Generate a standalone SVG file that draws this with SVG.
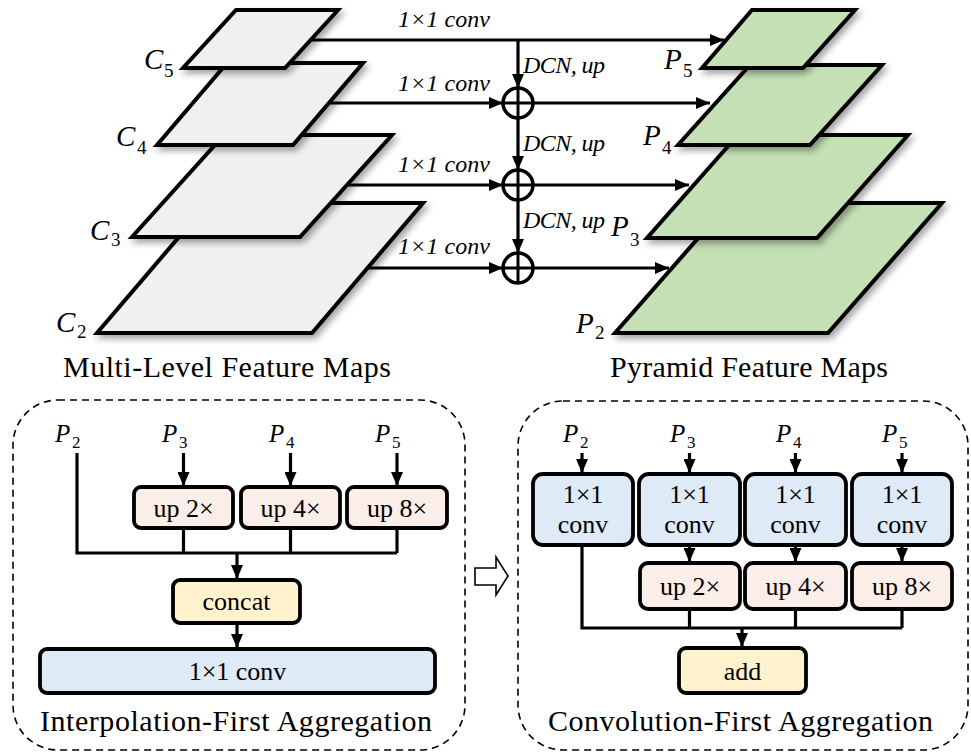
<svg xmlns="http://www.w3.org/2000/svg" width="971" height="752" viewBox="0 0 971 752">
<defs>
<filter id="sh" x="-20%" y="-20%" width="140%" height="150%">
<feDropShadow dx="3" dy="4" stdDeviation="3" flood-color="#000" flood-opacity="0.35"/>
</filter>
<marker id="ah" markerUnits="userSpaceOnUse" markerWidth="14" markerHeight="12" viewBox="0 0 14 12" refX="14" refY="6" orient="auto">
<path d="M0,0 L14,6 L0,12 z" fill="#000"/>
</marker>
</defs>
<style>
.c{fill:#f0f0f0;stroke:#000;stroke-width:4;stroke-linejoin:miter;filter:url(#sh)}
.p{fill:#c5e0b4;stroke:#000;stroke-width:4;stroke-linejoin:miter;filter:url(#sh)}
.ln{fill:none;stroke:#000;stroke-width:3.2}
.ar{fill:none;stroke:#000;stroke-width:3.2;marker-end:url(#ah)}
.lab{font-family:"Liberation Serif",serif;font-style:italic;font-size:24px;fill:#000}
.sym{font-family:"Liberation Serif",serif;font-style:italic;font-size:29px;fill:#000}
.sub{font-family:"Liberation Serif",serif;font-size:19px;fill:#000}
.symb{font-family:"Liberation Serif",serif;font-style:italic;font-size:25px;fill:#000}
.subb{font-family:"Liberation Serif",serif;font-size:17px;fill:#000}
.ttl{font-family:"Liberation Serif",serif;font-size:30px;fill:#000}
.bt{font-family:"Liberation Serif",serif;font-size:26px;fill:#000;text-anchor:middle}
.box{stroke:#000;stroke-width:3.8}
.up{fill:#fbeee8}
.cc{fill:#fff2cc}
.cv{fill:#deebf7}
.dash{fill:none;stroke:#000;stroke-width:1.6;stroke-dasharray:7 5}
</style>

<!-- Left feature maps -->
<g id="C2"><polygon class="c" points="97,333 312,333 423,203 208,203"/>
<text class="sym" x="56" y="332">C</text><text class="sub" x="77" y="338">2</text></g>
<g id="C3"><polygon class="c" points="132,237 300,237 392,135 224,135"/>
<text class="sym" x="90" y="240">C</text><text class="sub" x="111" y="246">3</text></g>
<g id="C4"><polygon class="c" points="157,145 293,145 363,63 227,63"/>
<text class="sym" x="116" y="146">C</text><text class="sub" x="137" y="154">4</text></g>
<g id="C5"><polygon class="c" points="183,68 285,68 338,10 236,10"/>
<text class="sym" x="144" y="69">C</text><text class="sub" x="164" y="77">5</text></g>

<!-- Right pyramid maps -->
<g id="P2"><polygon class="p" points="615,333 828,333 942,203 729,203"/>
<text class="sym" x="576" y="333">P</text><text class="sub" x="595" y="339">2</text></g>
<g id="P3"><polygon class="p" points="647,238 817,238 908,135 738,135"/>
<text class="sym" x="611" y="236">P</text><text class="sub" x="630" y="246">3</text></g>
<g id="P4"><polygon class="p" points="678,145 810,145 882,65 750,65"/>
<text class="sym" x="643" y="145">P</text><text class="sub" x="662" y="154">4</text></g>
<g id="P5"><polygon class="p" points="702,68 803,68 855,10 752,10"/>
<text class="sym" x="664" y="69">P</text><text class="sub" x="683" y="77">5</text></g>

<!-- Top connectors -->
<g id="top-connectors">
<line class="ar" x1="311" y1="40" x2="724" y2="40"/>
<line class="ar" x1="518" y1="40" x2="518" y2="88"/>
<line class="ar" x1="329" y1="103" x2="503" y2="103"/>
<line class="ar" x1="533" y1="103" x2="710" y2="103"/>
<line class="ar" x1="518" y1="118" x2="518" y2="170"/>
<line class="ar" x1="347" y1="185" x2="503" y2="185"/>
<line class="ar" x1="533" y1="185" x2="689" y2="185"/>
<line class="ar" x1="518" y1="200" x2="518" y2="253"/>
<line class="ar" x1="367" y1="268" x2="503" y2="268"/>
<line class="ar" x1="533" y1="268" x2="669" y2="268"/>
<text class="lab" x="398" y="27" textLength="92">1×1 conv</text>
<text class="lab" x="398" y="91" textLength="92">1×1 conv</text>
<text class="lab" x="398" y="172" textLength="92">1×1 conv</text>
<text class="lab" x="398" y="254" textLength="92">1×1 conv</text>
<text class="lab" x="523" y="73" textLength="82">DCN, up</text>
<text class="lab" x="523" y="151" textLength="82">DCN, up</text>
<text class="lab" x="523" y="228" textLength="82">DCN, up</text>
</g>
<g id="sum1"><circle cx="518" cy="103" r="15" fill="#fff" stroke="#000" stroke-width="3.5"/><path d="M503,103 H533 M518,88 V118" stroke="#000" stroke-width="3"/></g>
<g id="sum2"><circle cx="518" cy="185" r="15" fill="#fff" stroke="#000" stroke-width="3.5"/><path d="M503,185 H533 M518,170 V200" stroke="#000" stroke-width="3"/></g>
<g id="sum3"><circle cx="518" cy="268" r="15" fill="#fff" stroke="#000" stroke-width="3.5"/><path d="M503,268 H533 M518,253 V283" stroke="#000" stroke-width="3"/></g>

<text class="ttl" x="63" y="377" textLength="328">Multi-Level Feature Maps</text>
<text class="ttl" x="610" y="377" textLength="278">Pyramid Feature Maps</text>

<!-- Bottom-left panel -->
<g id="panel-left">
<rect class="dash" x="13" y="400" width="452" height="350" rx="45"/>
<text class="ttl" x="40" y="731" textLength="392">Interpolation-First Aggregation</text>
</g>
<g id="L-P2"><text class="symb" x="55" y="442">P</text><text class="subb" x="72" y="448">2</text></g>
<g id="L-P3"><text class="symb" x="162" y="442">P</text><text class="subb" x="179" y="448">3</text></g>
<g id="L-P4"><text class="symb" x="269" y="442">P</text><text class="subb" x="286" y="448">4</text></g>
<g id="L-P5"><text class="symb" x="375" y="442">P</text><text class="subb" x="392" y="448">5</text></g>
<g id="L-up2"><rect class="box up" x="134" y="487" width="99" height="41" rx="7"/><text class="bt" x="183.5" y="517">up 2×</text></g>
<g id="L-up4"><rect class="box up" x="241" y="487" width="99" height="41" rx="7"/><text class="bt" x="290.5" y="517">up 4×</text></g>
<g id="L-up8"><rect class="box up" x="347" y="487" width="100" height="41" rx="7"/><text class="bt" x="397" y="517">up 8×</text></g>
<g id="L-concat"><rect class="box cc" x="173" y="580" width="127" height="43" rx="7"/><text class="bt" x="236.5" y="610">concat</text></g>
<g id="L-conv"><rect class="box cv" x="40" y="649" width="395" height="44" rx="7"/><text class="bt" x="237.5" y="680">1×1 conv</text></g>
<g id="L-connectors">
<path class="ln" d="M77,453 V553 H397"/>
<line class="ln" x1="183.5" y1="528" x2="183.5" y2="553"/>
<line class="ln" x1="290.5" y1="528" x2="290.5" y2="553"/>
<line class="ln" x1="397" y1="528" x2="397" y2="553"/>
<line class="ar" x1="183.5" y1="453" x2="183.5" y2="486"/>
<line class="ar" x1="290.5" y1="453" x2="290.5" y2="486"/>
<line class="ar" x1="397" y1="453" x2="397" y2="486"/>
<line class="ar" x1="237" y1="553" x2="237" y2="579"/>
<line class="ar" x1="237" y1="623" x2="237" y2="648"/>
</g>

<!-- hollow arrow -->
<g id="transition"><polygon points="475,568 496,568 496,557 508,576 496,595 496,585 475,585" fill="#fff" stroke="#000" stroke-width="1.6" stroke-linejoin="miter"/></g>

<!-- Bottom-right panel -->
<g id="panel-right">
<rect class="dash" x="518" y="401" width="450" height="349" rx="45"/>
<text class="ttl" x="548" y="731" textLength="385">Convolution-First Aggregation</text>
</g>
<g id="R-P2"><text class="symb" x="563" y="442">P</text><text class="subb" x="580" y="448">2</text></g>
<g id="R-P3"><text class="symb" x="670" y="442">P</text><text class="subb" x="687" y="448">3</text></g>
<g id="R-P4"><text class="symb" x="776" y="442">P</text><text class="subb" x="793" y="448">4</text></g>
<g id="R-P5"><text class="symb" x="882" y="442">P</text><text class="subb" x="899" y="448">5</text></g>
<g id="R-conv2"><rect class="box cv" x="533" y="474" width="100" height="71" rx="10"/><text class="bt" x="583" y="503">1×1</text><text class="bt" x="583" y="533">conv</text></g>
<g id="R-conv3"><rect class="box cv" x="639" y="474" width="101" height="71" rx="10"/><text class="bt" x="689.5" y="503">1×1</text><text class="bt" x="689.5" y="533">conv</text></g>
<g id="R-conv4"><rect class="box cv" x="745" y="474" width="101" height="71" rx="10"/><text class="bt" x="795.5" y="503">1×1</text><text class="bt" x="795.5" y="533">conv</text></g>
<g id="R-conv5"><rect class="box cv" x="852" y="474" width="100" height="71" rx="10"/><text class="bt" x="902" y="503">1×1</text><text class="bt" x="902" y="533">conv</text></g>
<g id="R-up2"><rect class="box up" x="640" y="563" width="100" height="46" rx="8"/><text class="bt" x="690" y="595">up 2×</text></g>
<g id="R-up4"><rect class="box up" x="745" y="563" width="101" height="46" rx="8"/><text class="bt" x="795.5" y="595">up 4×</text></g>
<g id="R-up8"><rect class="box up" x="852" y="563" width="100" height="46" rx="8"/><text class="bt" x="902" y="595">up 8×</text></g>
<g id="R-add"><rect class="box cc" x="679" y="648" width="127" height="45" rx="7"/><text class="bt" x="742.5" y="680">add</text></g>
<g id="R-connectors">
<line class="ar" x1="582" y1="453" x2="582" y2="473"/>
<line class="ar" x1="689.5" y1="453" x2="689.5" y2="473"/>
<line class="ar" x1="795.5" y1="453" x2="795.5" y2="473"/>
<line class="ar" x1="902" y1="453" x2="902" y2="473"/>
<line class="ar" x1="689.5" y1="545" x2="689.5" y2="562"/>
<line class="ar" x1="795.5" y1="545" x2="795.5" y2="562"/>
<line class="ar" x1="902" y1="545" x2="902" y2="562"/>
<path class="ln" d="M582,545 V628 H902"/>
<line class="ln" x1="689.5" y1="609" x2="689.5" y2="628"/>
<line class="ln" x1="795.5" y1="609" x2="795.5" y2="628"/>
<line class="ln" x1="902" y1="609" x2="902" y2="628"/>
<line class="ar" x1="742" y1="628" x2="742" y2="647"/>
</g>
</svg>
